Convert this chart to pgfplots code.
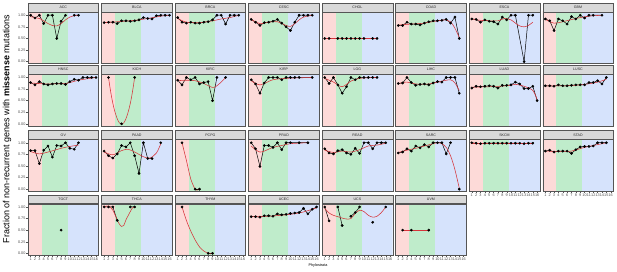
\documentclass[border=0pt]{standalone}
\usepackage{pgfplots}
\pgfplotsset{compat=1.18}
\usepackage{pgfplotstable}
\usepackage{fontspec}
\setmainfont{Liberation Sans}
\definecolor{bgpink}{RGB}{253,218,216}
\definecolor{bggreen}{RGB}{191,236,203}
\definecolor{bgblue}{RGB}{214,227,252}
\definecolor{stripgray}{RGB}{217,217,217}
\definecolor{framegray}{RGB}{85,85,85}
\definecolor{loessred}{RGB}{214,52,58}

\pgfplotsset{
  every axis title shift=0pt,
  panel/.style={
    anchor=south west, scale only axis, width=70.6bp, height=51.5bp,
    xmin=0.4, xmax=16.6, ymin=-0.04, ymax=1.07,
    axis on top, axis line style={draw=framegray, line width=0.35bp},
    xtick=\empty, ytick=\empty,
    unbounded coords=jump,
    title style={at={(0.5,1)}, anchor=south, fill=stripgray, draw=framegray, line width=0.35bp,
      minimum width=70.6bp, minimum height=8.7bp, inner sep=0pt, font=\fontsize{3.6}{4}\selectfont, text=black!85},
    tick style={draw=framegray, line width=0.3bp}, major tick length=1.6bp, tick align=outside,
  },
  showx/.style={xtick={1,2,3,4,5,6,7,8,9,10,11,12,13,14,15,16},
    xticklabels={1,2,3,4,5,6,7,8,9,10,11,12,13,14,15,16}, xtick pos=left,
    xticklabel style={font=\fontsize{3.8}{4}\selectfont, text=black!70, inner sep=0.6bp}},
  showy/.style={ytick={0,0.25,0.5,0.75,1}, yticklabels={0.00,0.25,0.50,0.75,1.00}, ytick pos=left,
    yticklabel style={font=\fontsize{3.8}{4}\selectfont, text=black!70, inner sep=0.8bp}},
}

\newcommand\panel[4]{%
  \begin{axis}[panel, title={#2}, #1]
    \fill[bgpink] (axis cs:0,-1) rectangle (axis cs:3.5,2);
    \fill[bggreen] (axis cs:3.5,-1) rectangle (axis cs:9.5,2);
    \fill[bgblue] (axis cs:9.5,-1) rectangle (axis cs:17,2);
    \addplot[black, line width=0.5bp, no markers] table {#3};
    \addplot[loessred, line width=0.55bp, smooth, no markers] table {#4};
    \addplot[only marks, mark=*, mark size=1.15bp, black] table {#3};
  \end{axis}}

% ---------------- data ----------------
\pgfplotstableread{
x y
1 1.00
2 0.94
3 1.00
4 0.82
5 1.00
6 1.00
7 0.50
8 0.87
9 1.00
10 nan
11 1.00
12 1.00
}\pACC
\pgfplotstableread{
x y
1 0.97
2 0.95
3 0.93
4 0.88
5 0.82
6 0.78
7 0.77
8 0.82
9 0.90
10 0.96
11 0.99
12 1.00
}\rACC

\pgfplotstableread{
x y
1 0.84
2 0.85
3 0.85
4 0.82
5 0.88
6 0.88
7 0.87
8 0.88
9 0.90
10 0.95
11 0.93
12 0.92
13 0.99
14 1.00
15 1.00
16 1.00
}\pBLCA
\pgfplotstableread{
x y
1 0.84
4 0.86
8 0.89
11 0.93
14 0.98
16 1.00
}\rBLCA

\pgfplotstableread{
x y
1 0.95
2 0.85
3 0.83
4 0.85
5 0.83
6 0.83
7 0.85
8 0.86
9 0.90
10 1.00
11 1.00
12 0.81
13 1.00
14 1.00
15 1.00
}\pBRCA
\pgfplotstableread{
x y
1 0.93
3 0.85
6 0.84
9 0.88
11 0.92
13 0.95
15 1.00
}\rBRCA

\pgfplotstableread{
x y
1 0.91
2 0.85
3 0.78
4 0.84
5 0.85
6 0.87
7 0.91
8 0.83
9 0.75
10 0.67
11 0.85
12 1.00
13 1.00
14 1.00
15 1.00
}\pCESC
\pgfplotstableread{
x y
1 0.91
3 0.82
5 0.85
7 0.86
9 0.78
10 0.76
11 0.82
12 0.90
13 0.96
15 1.00
}\rCESC

\pgfplotstableread{
x y
1 0.50
2 0.50
3 nan
4 0.50
5 0.50
6 0.50
7 0.50
8 0.50
9 0.50
10 0.50
11 nan
12 0.50
13 0.50
}\pCHOL
\pgfplotstableread{
x y
1 0.50
13 0.50
}\rCHOL

\pgfplotstableread{
x y
1 0.78
2 0.78
3 0.85
4 0.81
5 0.81
6 0.79
7 0.83
8 0.86
9 0.88
10 0.88
11 0.89
12 0.91
13 0.83
14 0.96
15 0.50
}\pCOAD
\pgfplotstableread{
x y
1 0.79
4 0.81
7 0.83
10 0.88
12 0.90
13 0.86
14 0.72
15 0.52
}\rCOAD

\pgfplotstableread{
x y
1 0.92
2 0.91
3 0.85
4 0.90
5 0.87
6 0.86
7 0.81
8 0.96
9 0.90
10 1.00
11 1.00
13 0.00
14 1.00
15 1.00
}\pESCA
\pgfplotstableread{
x y
1 0.92
3 0.89
5 0.88
7 0.88
8.5 0.93
10 0.90
11 0.83
12 0.77
13 0.75
14 0.78
15 0.85
}\rESCA

\pgfplotstableread{
x y
1 0.92
2 0.88
3 0.67
4 0.92
5 0.88
6 0.81
7 0.97
8 0.92
9 1.00
10 0.94
11 1.00
12 1.00
14 1.00
}\pGBM
\pgfplotstableread{
x y
1 0.91
3 0.83
5 0.86
8 0.93
11 0.98
14 1.00
}\rGBM

\pgfplotstableread{
x y
1 0.89
2 0.84
3 0.91
4 0.86
5 0.84
6 0.86
7 0.87
8 0.87
9 0.85
10 0.91
11 0.96
12 0.94
13 1.00
14 1.00
15 1.00
16 1.00
}\pHNSC
\pgfplotstableread{
x y
1 0.88
5 0.86
9 0.87
12 0.94
16 1.00
}\rHNSC

\pgfplotstableread{
x y
2 1.00
3 nan
5 0.00
6 nan
8 1.00
}\pKICH
\pgfplotstableread{
x y
2 1.00
2.5 0.69
3 0.44
3.5 0.25
4 0.11
4.5 0.02
5 -0.01
5.5 0.02
6 0.11
6.5 0.25
7 0.44
7.5 0.69
8 1.00
}\rKICH

\pgfplotstableread{
x y
1 0.94
2 0.84
3 1.00
4 0.95
5 1.00
6 0.86
7 0.89
8 0.91
9 0.50
10 1.00
11 nan
12 1.00
}\pKIRC
\pgfplotstableread{
x y
1 0.93
3 0.94
5 0.93
7 0.87
8.5 0.80
9.5 0.79
11 0.90
12 1.00
}\rKIRC

\pgfplotstableread{
x y
1 0.95
2 0.86
3 0.66
4 0.88
5 1.00
6 1.00
7 1.00
8 0.95
9 1.00
10 1.00
11 1.00
12 1.00
15 1.00
}\pKIRP
\pgfplotstableread{
x y
1 0.93
2 0.87
3 0.84
4 0.87
6 0.95
9 0.98
15 1.00
}\rKIRP

\pgfplotstableread{
x y
1 1.00
2 0.87
3 1.00
4 0.84
5 0.66
6 0.80
7 1.00
8 0.95
9 1.00
10 1.00
11 1.00
12 1.00
13 1.00
}\pLGG
\pgfplotstableread{
x y
1 0.98
3 0.90
5 0.80
7 0.92
9 0.98
13 1.00
}\rLGG

\pgfplotstableread{
x y
1 0.87
2 0.88
3 1.00
4 0.89
5 0.83
6 0.85
7 0.86
8 0.84
9 0.88
10 0.91
11 0.90
12 1.00
13 1.00
14 1.00
15 0.66
}\pLIHC
\pgfplotstableread{
x y
1 0.87
3 0.90
5 0.86
8 0.86
11 0.92
13 0.95
14 0.88
15 0.72
}\rLIHC

\pgfplotstableread{
x y
1 0.77
2 0.81
3 0.80
4 0.81
5 0.82
6 0.81
7 0.77
8 0.83
9 0.83
10 0.84
11 0.90
12 0.86
13 0.76
14 0.76
15 0.81
16 0.50
}\pLUAD
\pgfplotstableread{
x y
1 0.79
5 0.80
9 0.82
11 0.85
13 0.81
15 0.72
16 0.52
}\rLUAD

\pgfplotstableread{
x y
1 0.82
2 0.82
3 0.81
4 0.84
5 0.82
6 0.82
7 0.83
8 0.84
9 0.84
10 0.84
11 0.89
12 0.89
13 0.93
14 0.86
15 1.00
}\pLUSC
\pgfplotstableread{
x y
1 0.82
6 0.82
10 0.85
13 0.90
15 0.96
}\rLUSC

\pgfplotstableread{
x y
1 0.83
2 0.83
3 0.55
4 0.84
5 0.93
6 0.69
7 0.94
8 0.93
9 1.00
10 0.88
11 0.86
12 1.00
}\pOV
\pgfplotstableread{
x y
1 0.81
3 0.76
5 0.80
8 0.88
10 0.92
12 0.95
}\rOV

\pgfplotstableread{
x y
1 0.82
2 0.72
3 0.67
4 0.76
5 0.94
6 0.91
7 1.00
8 0.72
9 0.34
10 1.00
11 0.66
12 0.66
13 nan
14 1.00
}\pPAAD
\pgfplotstableread{
x y
1 0.80
3 0.74
5 0.83
6.5 0.86
8 0.80
10 0.70
11.5 0.67
13 0.78
14 0.98
}\rPAAD

\pgfplotstableread{
x y
2 1.00
3 nan
5 0.00
6 0.00
}\pPCPG
\pgfplotstableread{
x y
2 1.00
3 0.62
4 0.22
5 0.00
5.5 -0.02
6 0.00
}\rPCPG

\pgfplotstableread{
x y
1 1.00
2 0.87
3 0.49
4 0.94
5 0.94
6 0.90
7 1.00
8 0.85
9 1.00
10 1.00
12 1.00
14 1.00
}\pPRAD
\pgfplotstableread{
x y
1 0.93
2 0.85
3 0.80
4 0.82
6 0.90
8 0.94
10 0.98
14 1.00
}\rPRAD

\pgfplotstableread{
x y
1 0.87
2 0.78
3 0.76
4 0.83
5 0.85
6 0.78
7 0.75
8 0.88
9 0.77
10 1.00
11 1.00
12 0.87
13 1.00
14 1.00
15 1.00
}\pREAD
\pgfplotstableread{
x y
1 0.84
3 0.79
5 0.82
7 0.80
9 0.85
11 0.93
13 0.95
15 0.99
}\rREAD

\pgfplotstableread{
x y
1 0.78
2 0.80
3 0.87
4 0.82
5 0.93
6 0.89
7 0.96
8 0.91
9 1.00
10 1.00
11 1.00
12 0.76
13 1.00
14 nan
15 0.00
}\pSARC
\pgfplotstableread{
x y
1 0.79
3 0.84
5 0.88
7 0.93
9 0.98
10 1.00
11 0.98
12 0.90
13 0.72
14 0.42
15 0.02
}\rSARC

\pgfplotstableread{
x y
1 1.00
2 0.99
3 0.98
4 0.99
5 0.99
6 0.99
7 0.99
8 0.99
9 0.99
10 0.99
11 0.99
12 0.99
13 0.98
14 0.99
15 0.99
}\pSKCM
\pgfplotstableread{
x y
1 0.99
15 0.99
}\rSKCM

\pgfplotstableread{
x y
1 0.82
2 0.84
3 0.80
4 0.82
5 0.82
6 0.82
7 0.77
8 0.85
9 0.91
10 0.92
11 0.92
12 0.93
13 1.00
14 1.00
15 1.00
}\pSTAD
\pgfplotstableread{
x y
1 0.82
5 0.81
7 0.82
10 0.90
13 0.96
15 1.00
}\rSTAD

\pgfplotstableread{
x y
8 0.50
}\pTGCT
\pgfplotstableread{
x y
8 0.50
}\rTGCT

\pgfplotstableread{
x y
1 1.00
2 1.00
3 1.00
4 0.71
5 nan
7 1.00
8 1.00
}\pTHCA
\pgfplotstableread{
x y
1 1.00
2 1.02
3 0.93
4 0.72
4.5 0.63
5 0.58
5.5 0.60
6 0.72
7 0.90
7.5 0.98
8 1.00
}\rTHCA

\pgfplotstableread{
x y
2 1.00
3 nan
8 0.00
9 0.00
}\pTHYM
\pgfplotstableread{
x y
2 1.00
3 0.71
4 0.48
5 0.29
6 0.14
7 0.05
8 0.00
8.5 -0.01
9 0.00
}\rTHYM

\pgfplotstableread{
x y
1 0.79
2 0.79
3 0.78
4 0.81
5 0.81
6 0.80
7 0.85
8 0.83
9 0.84
10 0.86
11 0.87
12 0.88
13 0.97
14 0.85
15 0.95
16 1.00
}\pUCEC
\pgfplotstableread{
x y
1 0.79
5 0.80
9 0.83
12 0.87
14 0.92
16 0.98
}\rUCEC

\pgfplotstableread{
x y
1 1.00
2 0.70
3 nan
4 1.00
5 0.60
6 nan
7 0.80
8 0.88
9 1.00
10 nan
12 0.67
13 nan
15 1.00
}\pUCS
\pgfplotstableread{
x y
1 0.97
2 0.87
3 0.82
4 0.79
5 0.76
6 0.74
7 0.75
8 0.86
9 0.93
10 0.90
11 0.82
12 0.78
13 0.80
14 0.88
15 1.00
}\rUCS

\pgfplotstableread{
x y
2 0.50
4 0.50
8 0.50
}\pUVM
\pgfplotstableread{
x y
2 0.50
8 0.50
}\rUVM

\begin{document}
\begin{tikzpicture}
\useasboundingbox (0,0) rectangle (617bp,272bp);
% row 1
\panel{at={(28bp,208.5bp)}, showy}{ACC}{\pACC}{\rACC}
\panel{at={(101.53bp,208.5bp)}}{BLCA}{\pBLCA}{\rBLCA}
\panel{at={(175.06bp,208.5bp)}}{BRCA}{\pBRCA}{\rBRCA}
\panel{at={(248.59bp,208.5bp)}}{CESC}{\pCESC}{\rCESC}
\panel{at={(322.12bp,208.5bp)}}{CHOL}{\pCHOL}{\rCHOL}
\panel{at={(395.65bp,208.5bp)}}{COAD}{\pCOAD}{\rCOAD}
\panel{at={(469.18bp,208.5bp)}}{ESCA}{\pESCA}{\rESCA}
\panel{at={(542.71bp,208.5bp)}}{GBM}{\pGBM}{\rGBM}
% row 2
\panel{at={(28bp,146.3bp)}, showy}{HNSC}{\pHNSC}{\rHNSC}
\panel{at={(101.53bp,146.3bp)}}{KICH}{\pKICH}{\rKICH}
\panel{at={(175.06bp,146.3bp)}}{KIRC}{\pKIRC}{\rKIRC}
\panel{at={(248.59bp,146.3bp)}}{KIRP}{\pKIRP}{\rKIRP}
\panel{at={(322.12bp,146.3bp)}}{LGG}{\pLGG}{\rLGG}
\panel{at={(395.65bp,146.3bp)}}{LIHC}{\pLIHC}{\rLIHC}
\panel{at={(469.18bp,146.3bp)}}{LUAD}{\pLUAD}{\rLUAD}
\panel{at={(542.71bp,146.3bp)}}{LUSC}{\pLUSC}{\rLUSC}
% row 3
\panel{at={(28bp,81bp)}, showy}{OV}{\pOV}{\rOV}
\panel{at={(101.53bp,81bp)}}{PAAD}{\pPAAD}{\rPAAD}
\panel{at={(175.06bp,81bp)}}{PCPG}{\pPCPG}{\rPCPG}
\panel{at={(248.59bp,81bp)}}{PRAD}{\pPRAD}{\rPRAD}
\panel{at={(322.12bp,81bp)}}{READ}{\pREAD}{\rREAD}
\panel{at={(395.65bp,81bp)}}{SARC}{\pSARC}{\rSARC}
\panel{at={(469.18bp,81bp)}, showx}{SKCM}{\pSKCM}{\rSKCM}
\panel{at={(542.71bp,81bp)}, showx}{STAD}{\pSTAD}{\rSTAD}
% row 4
\panel{at={(28bp,16.8bp)}, showy, showx}{TGCT}{\pTGCT}{\rTGCT}
\panel{at={(101.53bp,16.8bp)}, showx}{THCA}{\pTHCA}{\rTHCA}
\panel{at={(175.06bp,16.8bp)}, showx}{THYM}{\pTHYM}{\rTHYM}
\panel{at={(248.59bp,16.8bp)}, showx}{UCEC}{\pUCEC}{\rUCEC}
\panel{at={(322.12bp,16.8bp)}, showx}{UCS}{\pUCS}{\rUCS}
\panel{at={(395.65bp,16.8bp)}, showx}{UVM}{\pUVM}{\rUVM}
% axis titles
\node[rotate=90, font=\fontsize{9}{10}\selectfont, inner sep=0pt] at (7bp,143bp)
  {Fraction of non-recurrent genes with \textbf{missense} mutations};
\node[font=\fontsize{3.8}{4}\selectfont, inner sep=0pt] at (318bp,6bp) {Phylostrata};
\end{tikzpicture}
\end{document}
